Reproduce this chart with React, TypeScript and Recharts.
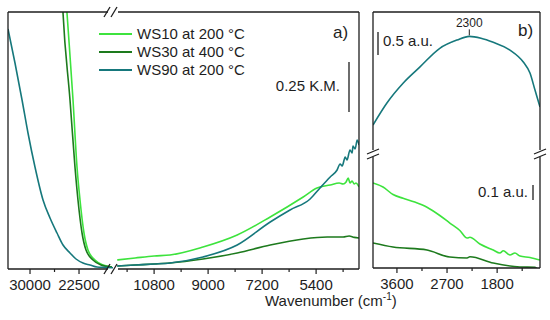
import { LineChart, Line, XAxis, YAxis, Legend, ReferenceDot } from 'recharts';

const INK = '#1e1e1e';
const C_WS10 = '#3de33d';
const C_WS30 = '#1d7a1d';
const C_WS90 = '#16787c';

const seriesNames = ['WS10 at 200 °C', 'WS30 at 400 °C', 'WS90 at 200 °C'];

// panel a, high wavenumber part (before the break)
const ws10LeftX = [24800, 24340, 23420, 22810, 22350, 21740, 21130, 20060, 18830, 17450];
const ws10LeftY = [1.5, 1.28, 0.845, 0.51, 0.345, 0.18, 0.095, 0.045, 0.02, 0.01];
const ws30LeftX = [25260, 24950, 23880, 23120, 22660, 22040, 21430, 20360, 19140, 17450];
const ws30LeftY = [1.5, 1.28, 0.845, 0.51, 0.345, 0.18, 0.095, 0.045, 0.02, 0.01];
const ws90LeftX = [33370, 32300, 31220, 30310, 29240, 28010, 26940, 25870, 24950, 23880, 22960, 21890, 20820, 19750, 18520, 17300];
const ws90LeftY = [1.2, 1.03, 0.845, 0.68, 0.51, 0.345, 0.255, 0.18, 0.12, 0.08, 0.05, 0.03, 0.02, 0.01, 0.008, 0.006];

// panel a, after the break
const ws10RightX = [12030, 11430, 10800, 10270, 9170, 8030, 6930, 5830, 5370, 4930, 4630, 4500, 4400, 4330, 4270, 4200, 4130, 4070, 3970];
const ws10RightY = [0.045, 0.055, 0.065, 0.07, 0.11, 0.17, 0.26, 0.36, 0.405, 0.42, 0.43, 0.425, 0.435, 0.455, 0.43, 0.44, 0.425, 0.43, 0.41];
const ws30RightX = [12030, 11430, 10800, 10270, 9170, 8030, 6930, 5830, 5030, 4500, 4300, 4130, 3970];
const ws30RightY = [0.015, 0.02, 0.025, 0.03, 0.05, 0.08, 0.12, 0.15, 0.16, 0.16, 0.165, 0.158, 0.155];
const ws90RightX = [12030, 11430, 10800, 10270, 9170, 8030, 6930, 6270, 5600, 5270, 4930, 4700, 4600, 4530, 4430, 4370, 4270, 4200, 4170, 4100, 4030, 3970];
const ws90RightY = [0.015, 0.02, 0.025, 0.03, 0.06, 0.12, 0.235, 0.295, 0.35, 0.405, 0.46, 0.495, 0.525, 0.515, 0.56, 0.545, 0.595, 0.58, 0.615, 0.6, 0.645, 0.62];

// panel b, upper part
const ws90BX = [4030, 3780, 3490, 3190, 2830, 2520, 2300, 2090, 1870, 1570, 1330, 1210, 1120, 1030];
const ws90BY = [0.61, 1.09, 1.52, 1.87, 2.28, 2.46, 2.54, 2.5, 2.41, 2.24, 1.98, 1.74, 1.37, 1.0];

// panel b, lower part
const ws10BX = [4030, 3850, 3670, 3490, 3280, 3060, 2830, 2650, 2470, 2340, 2290, 2110, 1870, 1750, 1690, 1570, 1480, 1390, 1210, 1030];
const ws10BY = [0.567, 0.54, 0.49, 0.465, 0.44, 0.405, 0.35, 0.3, 0.25, 0.2, 0.205, 0.16, 0.12, 0.1, 0.115, 0.087, 0.1, 0.08, 0.07, 0.053];
const ws30BX = [4030, 3670, 3060, 2650, 2340, 2290, 1870, 1390, 1120, 1030];
const ws30BY = [0.167, 0.14, 0.12, 0.073, 0.067, 0.075, 0.033, 0.007, 0.005, -0.03];

const ticksLeft = [30000, 26250, 22500];
const majorsLeft = [30000, 22500];
const ticksRight = [11700, 10800, 9900, 9000, 8100, 7200, 6300, 5400, 4500];
const majorsRight = [10800, 9000, 7200, 5400];
const ticksB = [3600, 3150, 2700, 2250, 1800, 1350];
const majorsB = [3600, 2700, 1800];

const pts = (xs: number[], ys: number[]) => xs.map((w, i) => ({ w, v: ys[i] }));

function AxisTick({ x, y, payload, majors }: any) {
  const major = majors.includes(payload.value);
  return (
    <g>
      <line x1={x} y1={y} x2={x} y2={y + (major ? 5 : 3)} stroke={INK} strokeWidth={1.2} />
      {major && (
        <text x={x} y={y + 21} textAnchor="middle" fontSize={15} fill={INK}>
          {payload.value}
        </text>
      )}
    </g>
  );
}

function LegendBox({ payload }: any) {
  return (
    <div>
      {(payload || []).map((p: any) => (
        <div key={p.value} style={{ display: 'flex', alignItems: 'center', height: 18 }}>
          <span style={{ width: 33, borderTop: `2px solid ${p.color}`, marginRight: 5 }} />
          <span style={{ fontSize: 15, color: INK, lineHeight: '18px', whiteSpace: 'nowrap' }}>{p.value}</span>
        </div>
      ))}
    </div>
  );
}

function PeakLabel({ viewBox }: any) {
  const cx = viewBox.x + viewBox.width / 2;
  const cy = viewBox.y + viewBox.height / 2;
  return (
    <g>
      <line x1={cx} y1={cy - 1} x2={cx} y2={cy - 7} stroke={INK} strokeWidth={1} />
      <text x={cx} y={cy - 9} textAnchor="middle" fontSize={12} fill={INK}>2300</text>
    </g>
  );
}

const lineProps = { type: 'monotone' as const, dataKey: 'v', dot: false, strokeWidth: 1.6, isAnimationActive: false };
const margin = { top: 0, right: 0, bottom: 0, left: 0 };

export default function App() {
  return (
    <div style={{ position: 'absolute', left: 0, top: 0, width: 550, height: 320, background: '#fff', fontFamily: '"Liberation Sans", Arial, sans-serif' }}>
      <div style={{ position: 'absolute', left: 8, top: 12 }}>
        <LineChart width={105} height={300} margin={margin}>
          <XAxis type="number" dataKey="w" domain={[17300, 33370]} reversed allowDataOverflow ticks={ticksLeft} interval={0}
            axisLine={false} tickLine={false} tickSize={0} tickMargin={0} height={43}
            tick={(p: any) => <AxisTick {...p} majors={majorsLeft} />} />
          <YAxis hide domain={[0, 1.285]} allowDataOverflow />
          <Line {...lineProps} data={pts(ws10LeftX, ws10LeftY)} name={seriesNames[0]} stroke={C_WS10} />
          <Line {...lineProps} data={pts(ws30LeftX, ws30LeftY)} name={seriesNames[1]} stroke={C_WS30} />
          <Line {...lineProps} data={pts(ws90LeftX, ws90LeftY)} name={seriesNames[2]} stroke={C_WS90} />
        </LineChart>
      </div>

      <div style={{ position: 'absolute', left: 113, top: 12 }}>
        <LineChart width={246} height={300} margin={margin}>
          <XAxis type="number" dataKey="w" domain={[3970, 12170]} reversed allowDataOverflow ticks={ticksRight} interval={0}
            axisLine={false} tickLine={false} tickSize={0} tickMargin={0} height={43}
            tick={(p: any) => <AxisTick {...p} majors={majorsRight} />} />
          <YAxis hide domain={[0, 1.285]} allowDataOverflow />
          <Legend layout="vertical" align="center" verticalAlign="middle" content={<LegendBox />}
            wrapperStyle={{ left: -14, top: 13, width: 220 }} />
          <Line {...lineProps} data={pts(ws10RightX, ws10RightY)} name={seriesNames[0]} stroke={C_WS10} />
          <Line {...lineProps} data={pts(ws30RightX, ws30RightY)} name={seriesNames[1]} stroke={C_WS30} />
          <Line {...lineProps} data={pts(ws90RightX, ws90RightY)} name={seriesNames[2]} stroke={C_WS90} />
        </LineChart>
      </div>

      <div style={{ position: 'absolute', left: 373, top: 12 }}>
        <LineChart width={167} height={141} margin={margin}>
          <XAxis hide type="number" dataKey="w" domain={[1030, 4030]} reversed allowDataOverflow />
          <YAxis hide domain={[0, 3.07]} allowDataOverflow />
          <Line {...lineProps} data={pts(ws90BX, ws90BY)} name={seriesNames[2]} stroke={C_WS90} />
          <ReferenceDot x={2300} y={2.54} r={0} label={(p: any) => <PeakLabel {...p} />} />
        </LineChart>
      </div>

      <div style={{ position: 'absolute', left: 373, top: 153 }}>
        <LineChart width={167} height={158} margin={margin}>
          <XAxis type="number" dataKey="w" domain={[1030, 4030]} reversed allowDataOverflow ticks={ticksB} interval={0}
            axisLine={false} tickLine={false} tickSize={0} tickMargin={0} height={43}
            tick={(p: any) => <AxisTick {...p} majors={majorsB} />} />
          <YAxis hide domain={[0, 0.767]} allowDataOverflow />
          <Line {...lineProps} data={pts(ws10BX, ws10BY)} name={seriesNames[0]} stroke={C_WS10} />
          <Line {...lineProps} data={pts(ws30BX, ws30BY)} name={seriesNames[1]} stroke={C_WS30} />
        </LineChart>
      </div>

      <svg width={550} height={320} style={{ position: 'absolute', left: 0, top: 0, pointerEvents: 'none' }}>
        <g stroke={INK} strokeWidth={1.3} fill="none">
          {/* panel a frame with x break */}
          <line x1={8} y1={12} x2={8} y2={269} />
          <line x1={359} y1={12} x2={359} y2={269} />
          <line x1={8} y1={12} x2={108} y2={12} />
          <line x1={118} y1={12} x2={359} y2={12} />
          <line x1={8} y1={269} x2={108} y2={269} />
          <line x1={118} y1={269} x2={359} y2={269} />
          <line x1={104} y1={17} x2={110} y2={7} />
          <line x1={111} y1={17} x2={117} y2={7} />
          <line x1={104} y1={274} x2={110} y2={264} />
          <line x1={111} y1={274} x2={117} y2={264} />
          {/* panel b frame with y break */}
          <line x1={373} y1={12} x2={540} y2={12} />
          <line x1={373} y1={268} x2={540} y2={268} />
          <line x1={373} y1={12} x2={373} y2={150} />
          <line x1={373} y1={157} x2={373} y2={268} />
          <line x1={540} y1={12} x2={540} y2={150} />
          <line x1={540} y1={157} x2={540} y2={268} />
          <line x1={367} y1={154} x2={379} y2={149} />
          <line x1={367} y1={159} x2={379} y2={154} />
          <line x1={534} y1={154} x2={546} y2={149} />
          <line x1={534} y1={159} x2={546} y2={154} />
          {/* scale bars */}
          <line x1={349} y1={62} x2={349} y2={112} />
          <line x1={378} y1={32} x2={378} y2={55} />
          <line x1={533} y1={185} x2={533} y2={200} />
        </g>
        <g fill={INK} fontSize={15}>
          <text x={340} y={91} textAnchor="end">0.25 K.M.</text>
          <text x={383} y={46}>0.5 a.u.</text>
          <text x={528} y={197} textAnchor="end">0.1 a.u.</text>
          <text x={333} y={38} fontSize={17}>a)</text>
          <text x={518} y={36} fontSize={17}>b)</text>
          <text x={265} y={306}>
            Wavenumber (cm<tspan fontSize={10} dy={-6}>-1</tspan><tspan dy={6}>)</tspan>
          </text>
        </g>
      </svg>
    </div>
  );
}
